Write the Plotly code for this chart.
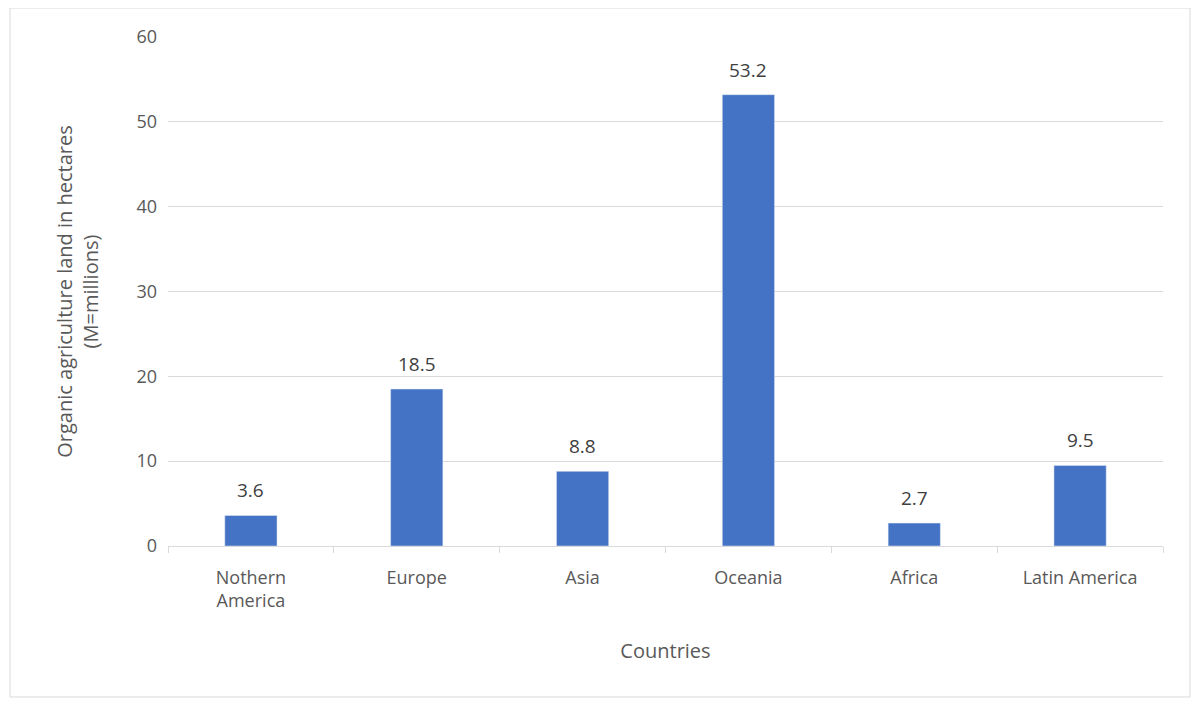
import plotly.graph_objects as go

categories = ["Nothern<br>America", "Europe", "Asia", "Oceania", "Africa", "Latin America"]
values = [3.6, 18.5, 8.8, 53.2, 2.7, 9.5]
labels = ["3.6", "18.5", "8.8", "53.2", "2.7", "9.5"]

txt = "#595959"
fig = go.Figure(go.Bar(x=categories, y=values, marker_color="#4472C4"))
for c, v, t in zip(categories, values, labels):
    fig.add_annotation(x=c, y=v, text=t, showarrow=False, yanchor="bottom", yshift=10,
                       font=dict(size=19, color="#404040"))
off = 8
L, T = 168 - off, 37 - off
pw, ph = 995, 509
R, B = 1200 - L - pw, 705 - T - ph
fig.update_layout(
    width=1200, height=705, margin=dict(l=L, r=R, t=T, b=B),
    plot_bgcolor="white", paper_bgcolor="white",
    font=dict(family="Open Sans, Liberation Sans", size=18, color=txt),
    bargap=0.685, showlegend=False,
    xaxis=dict(title=dict(text="Countries", font=dict(size=20), standoff=32),
               showline=True, linecolor="#d9d9d9", ticks="outside", tickson="boundaries",
               ticklen=6, tickcolor="#d9d9d9", ticklabelstandoff=15, tickfont=dict(size=18, color=txt)),
    yaxis=dict(title=dict(text="Organic agriculture land in hectares<br>(M=millions)", font=dict(size=20), standoff=32),
               range=[0, 60], dtick=10, gridcolor="#d9d9d9", zeroline=False,
               ticks="", ticklabelstandoff=10, tickfont=dict(size=18, color=txt)),
    shapes=[dict(type="rect", xref="paper", yref="paper",
                 x0=(10 - 168) / pw, x1=(1190 - 168) / pw,
                 y0=(546 - 697) / ph, y1=(546 - 8) / ph,
                 line=dict(color="#d9d9d9", width=1))],
)
fig.write_html("out.html")
